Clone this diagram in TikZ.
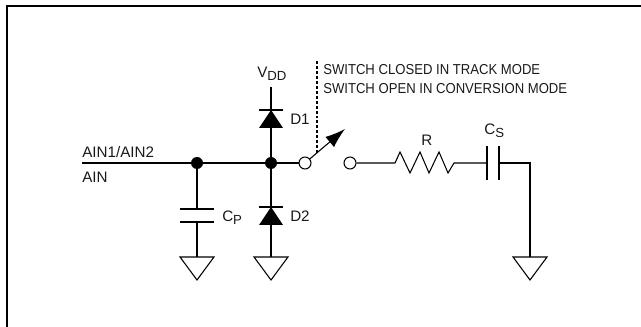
\documentclass[tikz,border=0pt]{standalone}
\usepackage{fontspec}
\setmainfont{Liberation Sans}
\newfontfamily\notefont[FakeStretch=0.91]{Liberation Sans}
\usetikzlibrary{arrows.meta}

\tikzset{
  wire/.style={line width=0.8pt},
  lbl/.style={inner sep=0pt, anchor=base west, font=\fontsize{11.4pt}{13pt}\selectfont, text=black!90},
  notelbl/.style={inner sep=0pt, anchor=base west, font=\notefont\fontsize{10.8pt}{13pt}\selectfont, text=black!90},
  dot/.style={circle, fill=black, inner sep=0pt, minimum size=9pt},
  pin/.style={circle, draw, fill=white, line width=0.8pt, inner sep=0pt, minimum size=9pt},
  gnd/.pic={\draw [wire] (-17,0) -- (17,0) -- (0,23) -- cycle;},
  diode/.pic={\fill (-12,18) -- (12,18) -- (0,0) -- cycle; \draw [wire] (-12,0) -- (12,0);}
}
\newcommand{\subtxt}[2]{#1\raisebox{-2pt}{\fontsize{9.9pt}{11pt}\selectfont #2}}

\begin{document}
\begin{tikzpicture}[x=0.75pt, y=-0.75pt, >={Latex[length=15pt,width=10pt]}]
\useasboundingbox (0,0) rectangle (641,327);
% frame
\draw [line width=1.5pt] (6.5,327) -- (6.5,6.5) -- (641,6.5);
% input line
\coordinate (in) at (82,163);
\node [dot] (P) at (197,163) {};
\node [dot] (Q) at (271,163) {};
\coordinate (S1c) at (305,163);
\coordinate (arm) at (345,129);
\draw [wire] (in) -- (P) -- (Q) -- (S1c);
\node [lbl] (ain1) at (82,158) {AIN1/AIN2};
\node [lbl] (ain) at (82,183) {AIN};
% D1
\node [lbl] (vdd) at (257,78) {\subtxt{V}{DD}};
\coordinate (top) at (271,87);
\coordinate (d1) at (271,110);
\draw [wire] (top) -- (Q);
\pic at (d1) {diode};
\node [lbl] (D1) at (290,125) {D1};
% D2
\coordinate (d2) at (271,207);
\coordinate (g2) at (271,257);
\draw [wire] (Q) -- (g2);
\pic at (d2) {diode};
\node [lbl] (D2) at (290,222) {D2};
\pic at (g2) {gnd};
% CP
\coordinate (c1) at (197,209);
\coordinate (c2) at (197,222);
\coordinate (g1) at (197,257);
\draw [wire] (P) -- (c1);
\draw [wire] (c2) -- (g1);
\draw [wire] (180,209) -- (214,209);
\draw [wire] (180,222) -- (214,222);
\node [lbl] (CP) at (222,222) {\subtxt{C}{P}};
\pic at (g1) {gnd};
% switch
\draw [->, wire] (S1c) -- (arm);
\node [pin] (S1) at (S1c) {};
\node [pin] (S2) at (350,163) {};
\draw [wire, dash pattern=on 2.2pt off 1.5pt] (317,153) -- (317,60);
\node [notelbl] (t1) at (323,75) {SWITCH CLOSED IN TRACK MODE};
\node [notelbl] (t2) at (323,94) {SWITCH OPEN IN CONVERSION MODE};
% R and CS
\coordinate (r1) at (395,163);
\coordinate (r2) at (454,163);
\coordinate (cs1) at (487,163);
\coordinate (cs2) at (499,163);
\draw [wire] (S2) -- (r1) -- (400,152) -- (410,173) -- (420,152) -- (429,173) -- (439,152) -- (448,173) -- (r2) -- (cs1);
\node [lbl] (R) at (421,146) {R};
\draw [wire] (487,146) -- (487,180);
\draw [wire] (499,146) -- (499,180);
\node [lbl] (CS) at (484,135) {\subtxt{C}{S}};
\coordinate (g3) at (530,257);
\draw [wire] (cs2) -- (530,163) -- (g3);
\pic at (g3) {gnd};
\end{tikzpicture}
\end{document}
